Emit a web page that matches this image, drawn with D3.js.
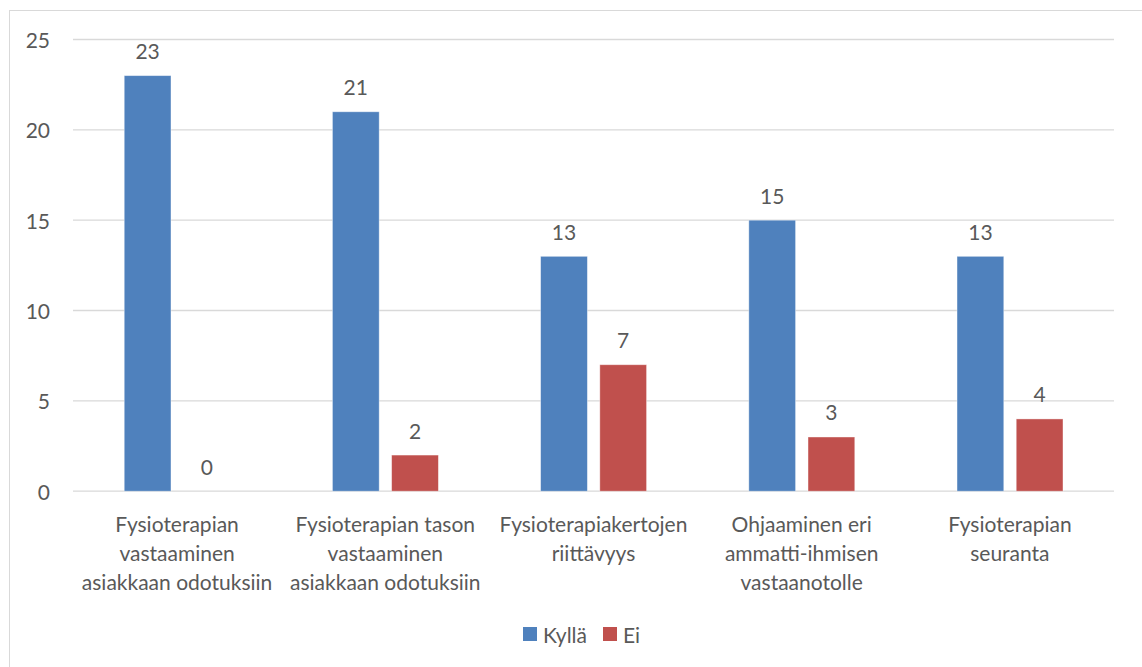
<!DOCTYPE html>
<html lang="fi">
<head>
<meta charset="UTF-8">
<title>Fysioterapia</title>
<script src="https://d3js.org/d3.v7.min.js"></script>
<style>
  body { margin: 0; background: #fff; }
  svg text { font-family: Lato, "Open Sans", sans-serif; fill: #595959; }
</style>
</head>
<body>
<svg id="chart" width="1142" height="667"></svg>
<script>
// data
const categories = [
  "Fysioterapian\nvastaaminen\nasiakkaan odotuksiin",
  "Fysioterapian tason\nvastaaminen\nasiakkaan odotuksiin",
  "Fysioterapiakertojen\nriittävyys",
  "Ohjaaminen eri\nammatti-ihmisen\nvastaanotolle",
  "Fysioterapian\nseuranta"
];
const seriesNames = ["Kyllä", "Ei"];
const kylla = [23, 21, 13, 15, 13];
const ei = [0, 2, 7, 3, 4];
const yTicks = [0, 5, 10, 15, 20, 25];
const colors = ["#4F81BD", "#C0504D"];

const svg = d3.select("#chart");
const margin = { left: 73, right: 28, top: 39.5, bottom: 175.8 };
const W = 1142, H = 667;
const fs = 21;

// outer chart border
svg.append("rect")
  .attr("x", 9.5).attr("y", 10.5)
  .attr("width", W + 10).attr("height", H + 10)
  .attr("fill", "none").attr("stroke", "#d9d9d9");

const x0 = d3.scaleBand()
  .domain(d3.range(categories.length))
  .range([margin.left, W - margin.right]);

const x1 = d3.scaleBand()
  .domain(seriesNames)
  .range([x0.bandwidth() * 0.246, x0.bandwidth() * 0.755])
  .paddingInner(0.21);

const y = d3.scaleLinear()
  .domain([0, 25])
  .range([H - margin.bottom, margin.top]);

// gridlines
svg.append("g")
  .selectAll("line")
  .data(yTicks)
  .join("line")
  .attr("x1", margin.left).attr("x2", W - margin.right)
  .attr("y1", d => y(d)).attr("y2", d => y(d))
  .attr("stroke", "#d9d9d9").attr("stroke-width", 1.3);

// y tick labels
svg.append("g")
  .selectAll("text")
  .data(yTicks)
  .join("text")
  .attr("x", 50).attr("y", d => y(d))
  .attr("text-anchor", "end")
  .attr("dominant-baseline", "central")
  .attr("font-size", fs)
  .text(d => d);

const rows = categories.map((c, i) => ({ i, values: [kylla[i], ei[i]] }));

const groups = svg.append("g")
  .selectAll("g")
  .data(rows)
  .join("g")
  .attr("transform", d => `translate(${x0(d.i)},0)`);

groups.selectAll("rect")
  .data(d => d.values.map((v, k) => ({ k, v })))
  .join("rect")
  .attr("x", d => x1(seriesNames[d.k]))
  .attr("width", x1.bandwidth())
  .attr("y", d => y(d.v))
  .attr("height", d => y(0) - y(d.v))
  .attr("fill", d => colors[d.k])
  .attr("stroke", "#fff").attr("stroke-opacity", 0.5).attr("stroke-width", 0.8);

// data labels
groups.selectAll("text.val")
  .data(d => d.values.map((v, k) => ({ k, v })))
  .join("text")
  .attr("class", "val")
  .attr("x", d => x1(seriesNames[d.k]) + x1.bandwidth() / 2)
  .attr("y", d => y(d.v) - 25)
  .attr("text-anchor", "middle")
  .attr("dominant-baseline", "central")
  .attr("font-size", fs)
  .text(d => d.v);

// category labels
svg.append("g")
  .selectAll("text")
  .data(categories)
  .join("text")
  .attr("text-anchor", "middle")
  .attr("font-size", fs)
  .each(function (d, i) {
    const t = d3.select(this);
    d.split("\n").forEach((line, j) => {
      t.append("tspan")
        .attr("x", x0(i) + x0.bandwidth() / 2)
        .attr("y", 523 + j * 29)
        .attr("dominant-baseline", "central")
        .text(line);
    });
  });

// legend
const legend = svg.append("g");
const legendPos = [523, 603];
seriesNames.forEach((s, k) => {
  legend.append("rect")
    .attr("x", legendPos[k]).attr("y", 627)
    .attr("width", 14).attr("height", 14)
    .attr("fill", colors[k]);
  legend.append("text")
    .attr("x", legendPos[k] + 20).attr("y", 634)
    .attr("dominant-baseline", "central")
    .attr("font-size", fs)
    .text(s);
});
</script>
</body>
</html>
